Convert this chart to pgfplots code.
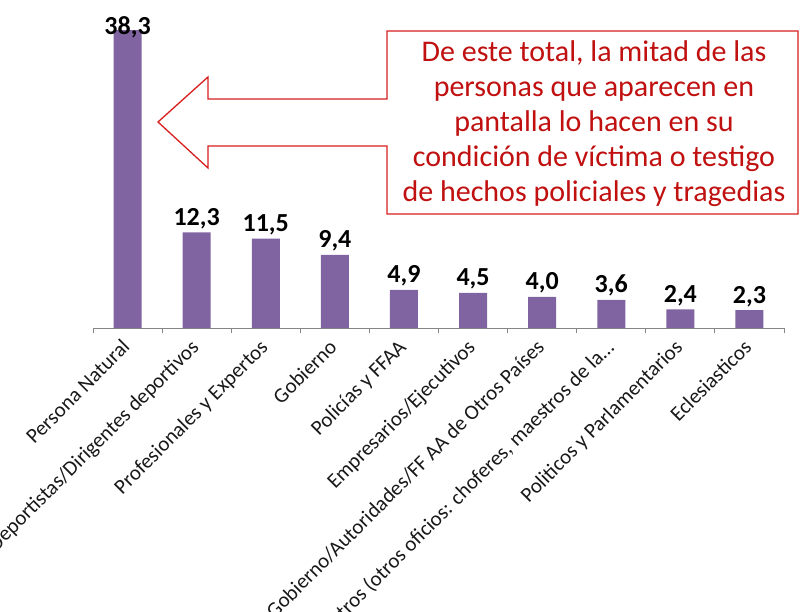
\documentclass[border=0pt]{standalone}
\usepackage{pgfplots}
\pgfplotsset{compat=1.18}
\usepackage{fontspec}
\setmainfont{Carlito}
\definecolor{barpurple}{RGB}{128,100,162}
\definecolor{axgray}{RGB}{134,134,134}
\definecolor{annred}{RGB}{192,16,16}
\definecolor{boxred}{RGB}{215,30,30}
\pgfplotstableread{
x y lab off
0 38.3 38,3 -12
1 12.3 12,3 0
2 11.5 11,5 0
3 9.4 9,4 0
4 4.9 4,9 0
5 4.5 4,5 0
6 4.0 4,0 0
7 3.6 3,6 0
8 2.4 2,4 0
9 2.3 2,3 0
}\datatable
\begin{document}
\begin{tikzpicture}
\useasboundingbox (0,0) rectangle (800pt,611pt);
\clip (0,0) rectangle (800pt,611pt);
\begin{axis}[
  at={(93pt,283pt)}, anchor=south west,
  scale only axis, width=691pt, height=311.2pt,
  xmin=-0.5, xmax=9.5, ymin=0, ymax=40,
  ybar, bar width=28pt,
  axis x line*=bottom, axis y line=none,
  x axis line style={axgray, line width=1pt},
  xtick={0,1,2,3,4,5,6,7,8,9},
  xticklabels={Persona Natural, Deportistas/Dirigentes deportivos, Profesionales y Expertos, Gobierno, Policías y FFAA, Empresarios/Ejecutivos, Gobierno/Autoridades/FF AA de Otros Países, {Otros (otros oficios: choferes, maestros de la\ldots}, Politicos y Parlamentarios, Eclesiasticos},
  major tick length=0pt,
  minor xtick={-0.5,0.5,1.5,2.5,3.5,4.5,5.5,6.5,7.5,8.5,9.5},
  minor tick length=5pt,
  tick align=outside,
  every minor tick/.style={axgray, line width=1pt},
  xticklabel style={rotate=45, anchor=north east, font=\fontsize{21}{21}\selectfont, text=black!90, inner xsep=12pt, inner ysep=2pt},
  clip=false,
]
\addplot[fill=barpurple, draw=none,
  nodes near coords, point meta=explicit symbolic,
  visualization depends on={\thisrow{off} \as \myoff},
  every node near coord/.append style={font=\fontsize{26}{26}\selectfont\bfseries, text=black, yshift=\myoff pt}]
  table[x=x, y=y, meta=lab] {\datatable};
\end{axis}
\draw[boxred, line width=1.3pt, fill=white, line join=miter]
  (158pt,489pt) -- (208pt,534pt) -- (208pt,512pt) -- (387pt,512pt) -- (387pt,580pt)
  -- (798pt,580pt) -- (798pt,397pt) -- (387pt,397pt) -- (387pt,465pt)
  -- (208pt,465pt) -- (208pt,443pt) -- cycle;
\node[align=center, text=annred, font=\fontsize{30}{35}\selectfont] at (594pt,487pt)
  {De este total, la mitad de las\\personas que aparecen en\\pantalla lo hacen en su\\condición de víctima o testigo\\de hechos policiales y tragedias};
\end{tikzpicture}
\end{document}
